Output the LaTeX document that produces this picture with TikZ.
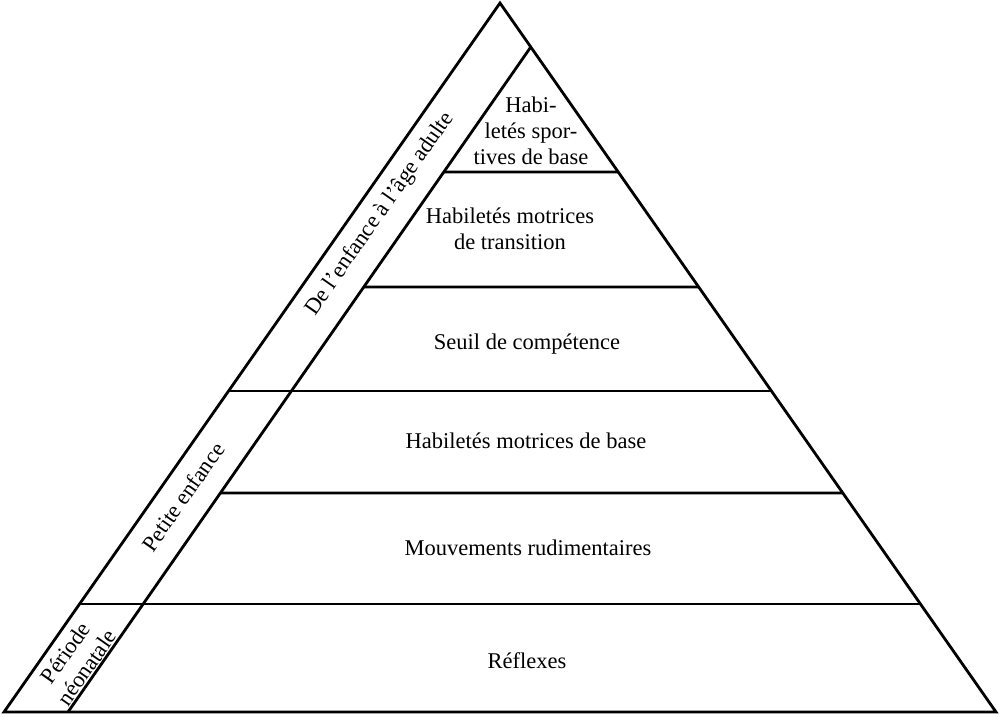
\documentclass[tikz,border=0pt]{standalone}
\usepackage{fontspec}
\setmainfont{Liberation Serif}
\usetikzlibrary{calc}
\begin{document}
\begin{tikzpicture}[x=1pt,y=-1pt,
  edge/.style={line width=2.8pt,line join=miter},
  lbl/.style={font=\fontsize{22.5}{26}\selectfont,align=center,inner sep=0pt},
  side/.style={lbl,rotate=55}]
\useasboundingbox (0,0) rectangle (1003,716);
% outer triangle
\coordinate (A) at (500,3);
\coordinate (BL) at (4,712);
\coordinate (BR) at (996,712);
% inner line
\coordinate (I1) at ($(A)!44/709!(BR)$);
\coordinate (I2) at (68,712);
% levels
\coordinate (L172) at ($(I1)!125/665!(I2)$);
\coordinate (R172) at ($(A)!169/709!(BR)$);
\coordinate (L287) at ($(I1)!240/665!(I2)$);
\coordinate (R287) at ($(A)!284/709!(BR)$);
\coordinate (L391) at ($(A)!388/709!(BL)$);
\coordinate (R391) at ($(A)!388/709!(BR)$);
\coordinate (L493) at ($(I1)!446/665!(I2)$);
\coordinate (R493) at ($(A)!490/709!(BR)$);
\coordinate (L604) at ($(A)!601/709!(BL)$);
\coordinate (R604) at ($(A)!601/709!(BR)$);
\draw[edge] (A) -- (BR) -- (BL) -- cycle;
\draw[edge] (I1) -- (I2);
\draw[edge] (L172) -- (R172);
\draw[edge] (L287) -- (R287);
\draw[edge] (L391) -- (R391);
\draw[edge] (L493) -- (R493);
\draw[edge] (L604) -- (R604);
% labels
\node[lbl] (t1) at (531,131) {Habi-\\let\'es spor-\\tives de base};
\node[lbl] (t2) at (510,229) {Habilet\'es motrices\\de transition};
\node[lbl] (t3) at (527,344) {Seuil de comp\'etence};
\node[lbl] (t4) at (526,441) {Habilet\'es motrices de base};
\node[lbl] (t5) at (528,548) {Mouvements rudimentaires};
\node[lbl] (t6) at (527,661) {R\'eflexes};
\node[side] (s1) at (380,214) {De l’enfance à l’âge adulte};
\node[side] (s2) at (183,497) {Petite enfance};
\node[side] (s3) at (76,660) {Période\\néonatale};
\end{tikzpicture}
\end{document}
